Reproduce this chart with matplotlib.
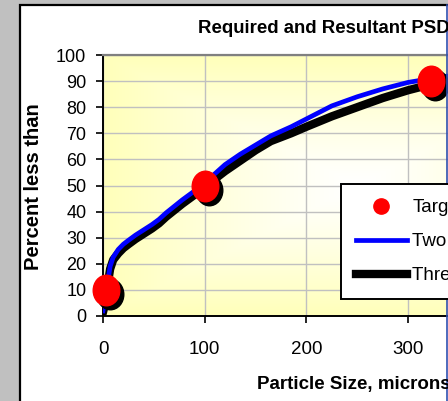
import numpy as np
import matplotlib
matplotlib.use('Agg')
import matplotlib.pyplot as plt
from matplotlib import patches, transforms
from matplotlib.lines import Line2D
from matplotlib.path import Path
from matplotlib.markers import MarkerStyle

plt.rcParams['font.family'] = ['Liberation Sans', 'DejaVu Sans']

# data
target_size = [3, 100, 323]
target_pct = [10, 50, 90]

two_size = [0, 1, 3, 5, 7, 10, 15, 20, 25, 32, 40, 48, 55, 62, 70, 78, 85, 92,
            100, 110, 120, 135, 150, 165, 185, 200, 225, 250, 275, 300, 320,
            340, 370, 400, 450, 500]
two_pct = [2, 4, 9, 14, 19, 22.5, 25.5, 27.5, 29, 31, 33, 35, 37, 39.5, 42,
           44.5, 46.5, 48.5, 51, 54.5, 58, 62, 65.5, 69, 72.5, 75.5, 80.5, 84,
           87, 89.5, 90.8, 92, 94, 96, 98, 99.5]

three_size = two_size
three_pct = [1.5, 3, 8, 13, 18, 21.5, 24, 26, 27.5, 29.5, 31.5, 33.5, 35.5, 38,
             40.5, 43, 45, 47, 49, 52.5, 55.5, 59.5, 63.5, 67, 70, 72.5, 76.5,
             80, 83.5, 86.5, 88.5, 90, 92, 94, 96.5, 98.5]

labels = ['Target', 'Two Component Blend', 'Three Component Blend']

W, H = 448, 401
fig = plt.figure(figsize=(W / 100, H / 100), dpi=100)
fig.patch.set_facecolor('#c0c0c0')

# white chart area with black border
chart = patches.Rectangle((20 / W, -0.1), 1.0, 1 - 5 / H + 0.1,
                          transform=fig.transFigure, facecolor='white',
                          edgecolor='black', linewidth=1.6, zorder=-1)
fig.add_artist(chart)
fig.add_artist(Line2D([446.5 / W, 446.5 / W], [0, 1 - 5 / H],
                      transform=fig.transFigure, color='#3050b0', lw=1.2))

# plot area (extends past the right edge, like the cropped original)
x0, y0 = 103, 316
px_per_x = 1.017
ax = fig.add_axes([x0 / W, (H - y0) / H, 500 * px_per_x / W, 261 / H])
ax.set_xlim(0, 500)
ax.set_ylim(0, 100)

# gradient background: white in the middle, pale yellow toward the edges
gx, gy = np.meshgrid(np.linspace(-1, 1, 300), np.linspace(-1, 1, 200))
t = np.clip(np.maximum(np.abs(gx), np.abs(gy)), 0, 1) ** 1.2
bg = np.ones((200, 300, 3))
bg[..., 2] = 1 - t * (1 - 186 / 255)
ax.imshow(bg, extent=[0, 500, 0, 100], aspect='auto', zorder=0,
          interpolation='bilinear')

ax.set_xticks(range(0, 501, 100))
ax.set_yticks(range(0, 101, 10))
ax.grid(True, color='#c0c0c0', lw=1)
ax.set_axisbelow(True)
for g in ax.get_xgridlines() + ax.get_ygridlines():
    g.set_zorder(0.5)

ax.spines['right'].set_visible(False)
ax.spines['top'].set_color('#808080')
ax.spines['top'].set_linewidth(1.6)
ax.spines['left'].set_linewidth(1.4)
ax.spines['bottom'].set_linewidth(1.4)
ax.tick_params(axis='y', direction='out', length=5, width=1.2, pad=7,
               labelsize=13)
ax.tick_params(axis='x', direction='out', length=5, width=1.2, pad=13,
               labelsize=13.5)

ax.plot(three_size, three_pct, color='black', lw=6,
        solid_joinstyle='round', zorder=2)
ax.plot(two_size, two_pct, color='#0000ff', lw=3.4,
        solid_joinstyle='round', zorder=3)

ellipse = Path(Path.unit_circle().vertices * [0.87, 1.0],
               Path.unit_circle().codes)
mk = MarkerStyle(ellipse)
shadow = transforms.offset_copy(ax.transData, fig=fig, x=4, y=-4, units='dots')
ax.plot(target_size, target_pct, ls='none', marker=mk, ms=22, color='black',
        transform=shadow, clip_on=False, zorder=4)
ax.plot(target_size, target_pct, ls='none', marker=mk, ms=22, color='#ff0000',
        clip_on=False, zorder=5)

handles = [Line2D([], [], ls='none', marker='o', ms=11, color='#ff0000'),
           Line2D([], [], color='#0000ff', lw=3.4),
           Line2D([], [], color='black', lw=6)]
leg = fig.legend(handles, labels, loc='upper left',
                 bbox_to_anchor=(341 / W, 1 - 184 / H),
                 bbox_transform=fig.transFigure, borderaxespad=0,
                 fontsize=13.5, frameon=True, fancybox=False, framealpha=1,
                 edgecolor='black', borderpad=0.8, handlelength=2.7,
                 handletextpad=0.3, labelspacing=0.9)
leg.get_frame().set_linewidth(1.4)

fig.text(198 / W, 1 - 33 / H, 'Required and Resultant PSDs', ha='left',
         va='baseline', fontsize=13.4, fontweight='bold')
fig.text(257 / W, 1 - 389 / H, 'Particle Size, microns', ha='left',
         va='baseline', fontsize=13.5, fontweight='bold')
fig.text(34 / W, 1 - 186.5 / H, 'Percent less than', rotation=90,
         ha='center', va='center', fontsize=14.5, fontweight='bold')

fig.savefig('out.png', dpi=100, facecolor=fig.get_facecolor())
